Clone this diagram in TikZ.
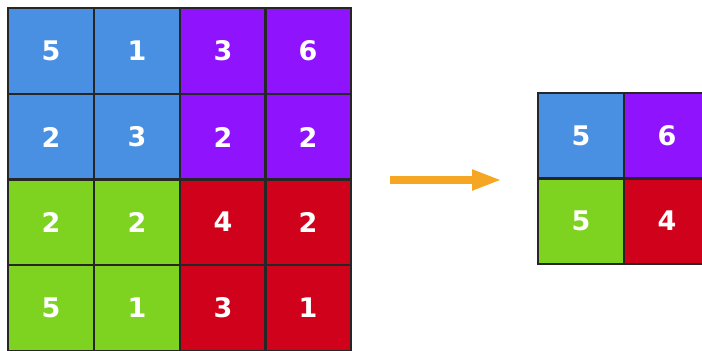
\documentclass[tikz,border=0pt]{standalone}
\usepackage{fontspec}
\setmainfont{DejaVu Sans}
\usetikzlibrary{arrows.meta}
\definecolor{cblue}{HTML}{4A90E2}
\definecolor{cpurple}{HTML}{9013FE}
\definecolor{cgreen}{HTML}{7ED321}
\definecolor{cred}{HTML}{D0021B}
\definecolor{corange}{HTML}{F5A623}
\tikzstyle{cell}=[minimum size=85.75pt,inner sep=0pt,text=white,font=\fontsize{27}{27}\selectfont\bfseries]
\tikzstyle{border}=[draw=black!85,line width=1.8pt]
\tikzstyle{edge} = [draw,corange,line width=7.5pt,-{Triangle[length=30pt,width=19pt]}]

\begin{document}
\begin{tikzpicture}[x=1pt,y=-1pt]
				\clip (0,0) rectangle (702,351);
				% Draw the input cells
				\foreach \pos/\name/\col/\val in {{(51,51)/a11/cblue/5}, {(137,51)/a12/cblue/1}, {(223,51)/a13/cpurple/3}, {(308,51)/a14/cpurple/6},
										{(51,137)/a21/cblue/2}, {(137,137)/a22/cblue/3}, {(223,137)/a23/cpurple/2}, {(308,137)/a24/cpurple/2},
										{(51,222)/a31/cgreen/2}, {(137,222)/a32/cgreen/2}, {(223,222)/a33/cred/4}, {(308,222)/a34/cred/2},
										{(51,308)/a41/cgreen/5}, {(137,308)/a42/cgreen/1}, {(223,308)/a43/cred/3}, {(308,308)/a44/cred/1}}
				\node[cell, fill=\col] (\name) at \pos {\val};

				% Draw the pooled cells
				\foreach \pos/\name/\col/\val in {{(581,136)/b11/cblue/5}, {(667,136)/b12/cpurple/6},
										{(581,221)/b21/cgreen/5}, {(667,221)/b22/cred/4}}
				\node[cell, fill=\col] (\name) at \pos {\val};

				% Outline every cell on top
				\foreach \name in {a11,a12,a13,a14,a21,a22,a23,a24,a31,a32,a33,a34,a41,a42,a43,a44,b11,b12,b21,b22}
				\path[border] (\name.north west) rectangle (\name.south east);

				% Connect with the arrow
				\coordinate (from) at (390,180);
				\coordinate (to) at (502,180);
				\path[edge] (from) -- (to);
			\end{tikzpicture}
\end{document}
